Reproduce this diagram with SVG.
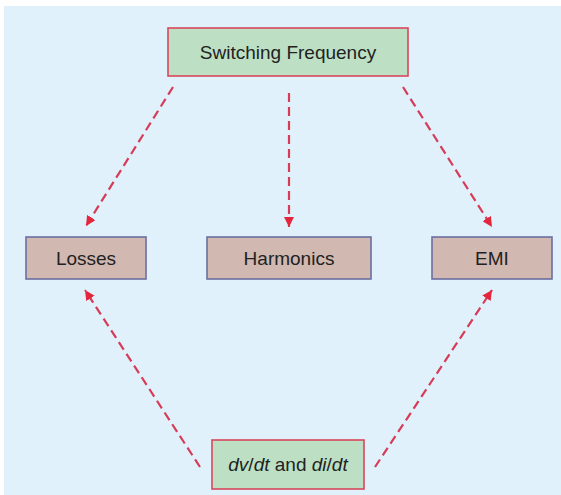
<svg xmlns="http://www.w3.org/2000/svg" width="561" height="495" viewBox="0 0 561 495">
<defs>
<style>
.txt{font-family:"Liberation Sans",Arial,sans-serif;font-size:19px;fill:#222;text-anchor:middle}
.green{fill:#bde0c4;stroke:#d8475a;stroke-width:1.6}
.brown{fill:#d1b8b0;stroke:#6b6fa2;stroke-width:1.6}
.conn{fill:none;stroke:#d63c58;stroke-width:2.2;stroke-dasharray:9 5}
</style>
<marker id="ah" viewBox="0 0 10 10" refX="10" refY="5" markerWidth="10" markerHeight="10" markerUnits="userSpaceOnUse" orient="auto">
<path d="M0,0 L10,5 L0,10 z" fill="#e3263c"/>
</marker>
</defs>
<rect x="0" y="0" width="561" height="495" fill="#ffffff"/>
<rect x="4" y="6" width="557" height="489" fill="#e0f1fb"/>
<g id="connectors">
<line class="conn" x1="173" y1="87" x2="86" y2="226" marker-end="url(#ah)"/>
<line class="conn" x1="289" y1="93" x2="289" y2="227" marker-end="url(#ah)"/>
<line class="conn" x1="403" y1="87" x2="492" y2="227" marker-end="url(#ah)"/>
<line class="conn" x1="200" y1="467" x2="85" y2="290" marker-end="url(#ah)"/>
<line class="conn" x1="375" y1="467" x2="492" y2="290" marker-end="url(#ah)"/>
</g>
<g id="switching-frequency">
<rect class="green" x="168" y="28" width="240" height="48"/>
<text class="txt" x="288" y="58.5">Switching Frequency</text>
</g>
<g id="losses">
<rect class="brown" x="26" y="237" width="120" height="42"/>
<text class="txt" x="86" y="264.5">Losses</text>
</g>
<g id="harmonics">
<rect class="brown" x="207" y="237" width="164" height="42"/>
<text class="txt" x="289" y="264.5">Harmonics</text>
</g>
<g id="emi">
<rect class="brown" x="432" y="237" width="120" height="42"/>
<text class="txt" x="492" y="264.5">EMI</text>
</g>
<g id="dv-di">
<rect class="green" x="212" y="440" width="152" height="49"/>
<text class="txt" x="288" y="471"><tspan font-style="italic">dv</tspan>/<tspan font-style="italic">dt</tspan> and <tspan font-style="italic">di</tspan>/<tspan font-style="italic">dt</tspan></text>
</g>
</svg>
